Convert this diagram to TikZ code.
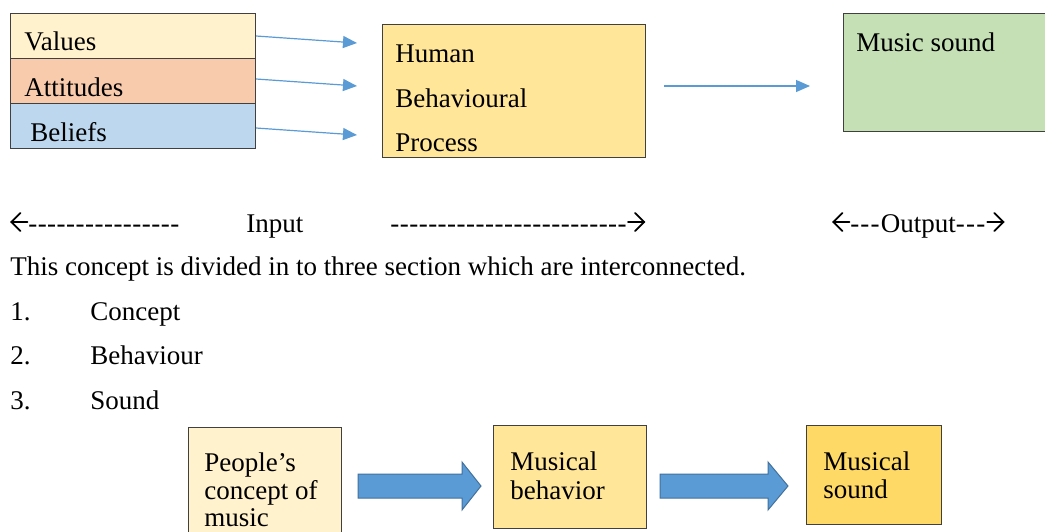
\documentclass[tikz,border=0pt]{standalone}
\usepackage{fontspec}
\setmainfont{Liberation Serif}
\newcommand{\RArr}{\tikz[baseline=0pt,x=1pt,y=1pt,line width=0.9pt,line cap=round,line join=miter]{\path (0,0) rectangle (8.5,9.5); \draw (0,5) -- (8,5); \draw (3.5,9.5) -- (8,5) -- (3.5,0.5);}}
\newcommand{\LArr}{\tikz[baseline=0pt,x=1pt,y=1pt,line width=0.9pt,line cap=round,line join=miter]{\path (0,0) rectangle (8.5,9.5); \draw (8.5,5) -- (0.5,5); \draw (5,9.5) -- (0.5,5) -- (5,0.5);}}
\newcommand{\hy}{\hbox{-}\kern0.24pt}
\newcommand{\hyo}{\hbox{-}\kern0.6pt}
\newcommand{\hyv}{\hy\hy\hy\hy\hy}
\usetikzlibrary{arrows.meta}
\definecolor{cvalues}{HTML}{FFF2CC}
\definecolor{cattit}{HTML}{F8CBAD}
\definecolor{cbelief}{HTML}{BDD7EE}
\definecolor{chuman}{HTML}{FFE699}
\definecolor{cmusic}{HTML}{C5E0B4}
\definecolor{csound}{HTML}{FFD966}
\definecolor{cblue}{HTML}{5B9BD5}
\definecolor{cbluedark}{HTML}{41719C}
\definecolor{boxline}{HTML}{404040}
\begin{document}
\begin{tikzpicture}[x=0.5pt,y=-0.5pt,
  box/.style={draw=boxline, line width=0.5pt, anchor=north west, inner sep=0pt},
  lbl/.style={anchor=base west, inner sep=0pt, font=\fontsize{13.5}{16}\selectfont},
  thinarrow/.style={draw=cblue, line width=0.6pt, -{Triangle[length=7pt,width=6pt]}},
  blockarrow/.style={draw=cbluedark, fill=cblue, line width=0.5pt}]
\useasboundingbox (0,0) rectangle (1045,531);
\clip (0,0) rectangle (1045,531);
\fill[white] (0,0) rectangle (1045,531);
% left stack
\node[box, fill=cvalues, minimum width=122.5pt, minimum height=22.5pt] (values) at (10,13) {};
\node[box, fill=cattit, minimum width=122.5pt, minimum height=22.5pt] (attit) at (10,58) {};
\node[box, fill=cbelief, minimum width=122.5pt, minimum height=22.5pt] (belief) at (10,103) {};
\node[lbl] (tvalues) at (24,50) {Values};
\node[lbl] (tattit) at (24,96) {Attitudes};
\node[lbl] (tbelief) at (30,141) {Beliefs};
% human box
\node[box, fill=chuman, minimum width=131.5pt, minimum height=66.5pt] (human) at (382,24) {};
\node[lbl] (th1) at (395,62) {Human};
\node[lbl] (th2) at (395,107) {Behavioural};
\node[lbl] (th3) at (395,151) {Process};
% music box
\node[box, fill=cmusic, minimum width=110pt, minimum height=59pt] (music) at (843,13) {};
\node[lbl] (tmusic) at (856,51) {Music sound};
% thin arrows
\coordinate (e1) at (357,43);
\coordinate (e2) at (357,86);
\coordinate (e3) at (357,135);
\coordinate (s4) at (664,86);
\coordinate (e4) at (810,86);
\draw[thinarrow] (values.east |- 0,36) -- (e1);
\draw[thinarrow] (attit.east |- 0,79) -- (e2);
\draw[thinarrow] (belief.east |- 0,128) -- (e3);
\draw[thinarrow] (s4) -- (e4);
% input / output line
\node[lbl] (inl) at (10,232) {\LArr\hyv\hyv\hyv\hy};
\node[lbl] (inp) at (246,232) {Input};
\node[lbl] (inr) at (390,232) {\hyv\hyv\hyv\hyv\hyv\RArr};
\node[lbl] (outp) at (832,232) {\LArr\hyo\hyo\hyo Output\hyo\hyo\hyo\RArr};
\node[lbl] (para) at (10,275) {This concept is divided in to three section which are interconnected.};
\node[lbl] (n1) at (10,320) {1.};
\node[lbl] (i1) at (90,320) {Concept};
\node[lbl] (n2) at (10,364) {2.};
\node[lbl] (i2) at (90,364) {Behaviour};
\node[lbl] (n3) at (10,409) {3.};
\node[lbl] (i3) at (90,409) {Sound};
% bottom boxes
\node[box, fill=cvalues, minimum width=76.5pt, minimum height=60pt] (people) at (188,427) {};
\node[lbl] (tp1) at (204,471) {People’s};
\node[lbl] (tp2) at (204,499) {concept of};
\node[lbl] (tp3) at (204,526) {music};
\node[box, fill=chuman, minimum width=76.5pt, minimum height=51.5pt] (behav) at (493,425) {};
\node[lbl] (tb1) at (510,470) {Musical};
\node[lbl] (tb2) at (510,499) {behavior};
\node[box, fill=csound, minimum width=67.5pt, minimum height=49.5pt] (sound) at (806,425) {};
\node[lbl] (ts1) at (823,470) {Musical};
\node[lbl] (ts2) at (823,498) {sound};
% block arrows
\draw[blockarrow] (358,474) -- (462,474) -- (462,462) -- (481,486) -- (462,510) -- (462,498) -- (358,498) -- cycle;
\draw[blockarrow] (660,474) -- (768,474) -- (768,462) -- (788,486) -- (768,510) -- (768,498) -- (660,498) -- cycle;
\end{tikzpicture}
\end{document}
